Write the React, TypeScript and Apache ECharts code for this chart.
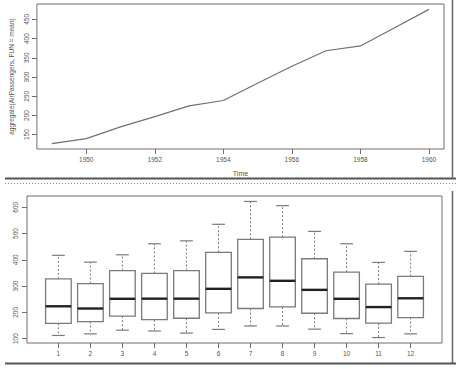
import React, { useEffect, useRef } from "react";
import * as echarts from "echarts";

const years = [1949, 1950, 1951, 1952, 1953, 1954, 1955, 1956, 1957, 1958, 1959, 1960];
const yearlyMean = [126.67, 139.67, 170.17, 197.0, 225.0, 238.92, 284.0, 328.25, 368.42, 381.0, 428.33, 476.17];
const yearTicks = [1950, 1952, 1954, 1956, 1958, 1960];
const meanTicks = [150, 200, 250, 300, 350, 400, 450];

const months = [1, 2, 3, 4, 5, 6, 7, 8, 9, 10, 11, 12];
const boxMin = [112, 118, 132, 129, 121, 135, 148, 148, 136, 119, 104, 118];
const boxQ1 = [158, 165, 185.5, 172, 177.5, 198, 214.5, 220.5, 196.5, 176.5, 159, 180];
const boxMedian = [223, 214.5, 251.5, 252, 252, 289.5, 333, 320, 285.5, 251.5, 220, 253.5];
const boxQ3 = [327.5, 309.5, 359, 348, 359, 428.5, 478, 486, 404, 353, 307.5, 336.5];
const boxMax = [417, 391, 419, 461, 472, 535, 622, 606, 508, 461, 390, 432];
const countTicks = [100, 200, 300, 400, 500, 600];

const FONT = "Liberation Sans";
const TXT = "#555555";
const AX = "#6e6e6e";

function pad(lo: number, hi: number) {
  const d = (hi - lo) * 0.04;
  return [lo - d, hi + d];
}

export default function App() {
  const ref = useRef<HTMLDivElement>(null);
  useEffect(() => {
    if (!ref.current) return;
    const chart = echarts.init(ref.current, undefined, { renderer: "svg" });
    const [x1min, x1max] = pad(Math.min(...years), Math.max(...years));
    const [y1min, y1max] = pad(Math.min(...yearlyMean), Math.max(...yearlyMean));
    const [x2min, x2max] = pad(0.5, months.length + 0.5);
    const [y2min, y2max] = pad(Math.min(...boxMin), Math.max(...boxMax));
    const boxData = months.map((m, k) => [m, boxMin[k], boxQ1[k], boxMedian[k], boxQ3[k], boxMax[k]]);

    const labelStyle = { fontFamily: FONT, fontSize: 6.5, color: TXT };

    chart.setOption({
      animation: false,
      backgroundColor: "#ffffff",
      grid: [
        { left: 33, top: 4, width: 411, height: 145, show: true, borderColor: AX, borderWidth: 1, backgroundColor: "transparent" },
        { left: 27, top: 196, width: 415, height: 147, show: true, borderColor: AX, borderWidth: 1, backgroundColor: "transparent" },
      ],
      xAxis: [
        {
          gridIndex: 0, type: "value", min: x1min, max: x1max,
          name: "Time", nameLocation: "middle", nameGap: 21,
          nameTextStyle: { ...labelStyle, fontSize: 7 },
          axisLine: { show: false },
          axisTick: { show: true, customValues: yearTicks, length: 5, lineStyle: { color: AX } },
          axisLabel: { ...labelStyle, customValues: yearTicks, margin: 7, formatter: (v: number) => String(v) },
          splitLine: { show: false },
        },
        {
          gridIndex: 1, type: "value", min: x2min, max: x2max,
          axisLine: { show: false },
          axisTick: { show: true, customValues: months, length: 5, lineStyle: { color: AX } },
          axisLabel: { ...labelStyle, customValues: months, margin: 7 },
          splitLine: { show: false },
        },
      ],
      yAxis: [
        {
          gridIndex: 0, type: "value", min: y1min, max: y1max,
          name: "aggregate(AirPassengers, FUN = mean)", nameLocation: "middle", nameGap: 21, nameRotate: 90,
          nameTextStyle: { ...labelStyle, fontSize: 6.5 },
          axisLine: { show: false },
          axisTick: { show: true, customValues: meanTicks, length: 5, lineStyle: { color: AX } },
          axisLabel: { ...labelStyle, customValues: meanTicks, rotate: 90, margin: 7 },
          splitLine: { show: false },
        },
        {
          gridIndex: 1, type: "value", min: y2min, max: y2max,
          axisLine: { show: false },
          axisTick: { show: true, customValues: countTicks, length: 5, lineStyle: { color: AX } },
          axisLabel: { ...labelStyle, customValues: countTicks, rotate: 90, margin: 8 },
          splitLine: { show: false },
        },
      ],
      series: [
        {
          type: "line", xAxisIndex: 0, yAxisIndex: 0,
          data: years.map((y, i) => [y, yearlyMean[i]]),
          showSymbol: false, symbol: "none",
          lineStyle: { color: "#707070", width: 1.2 },
        },
        {
          type: "custom", xAxisIndex: 1, yAxisIndex: 1,
          data: boxData,
          encode: { x: 0, y: [1, 2, 3, 4, 5] },
          renderItem: (params: any, api: any) => {
            const x = api.value(0);
            const lo = api.value(1), q1 = api.value(2), med = api.value(3), q3 = api.value(4), hi = api.value(5);
            const pTL = api.coord([x - 0.4, q3]);
            const pBR = api.coord([x + 0.4, q1]);
            const pMedL = api.coord([x - 0.4, med]);
            const pMedR = api.coord([x + 0.4, med]);
            const pLo = api.coord([x, lo]);
            const pHi = api.coord([x, hi]);
            const pQ1 = api.coord([x, q1]);
            const pQ3 = api.coord([x, q3]);
            const capL = api.coord([x - 0.2, lo])[0];
            const capR = api.coord([x + 0.2, lo])[0];
            const boxStroke = { stroke: "#7a7a7a", lineWidth: 1.3 };
            const whisk = { stroke: "#7a7a7a", lineWidth: 1, lineDash: [2, 2] };
            return {
              type: "group",
              children: [
                { type: "line", shape: { x1: pQ1[0], y1: pQ1[1], x2: pLo[0], y2: pLo[1] }, style: whisk },
                { type: "line", shape: { x1: pQ3[0], y1: pQ3[1], x2: pHi[0], y2: pHi[1] }, style: whisk },
                { type: "line", shape: { x1: capL, y1: pLo[1], x2: capR, y2: pLo[1] }, style: { stroke: "#7a7a7a", lineWidth: 1.2 } },
                { type: "line", shape: { x1: capL, y1: pHi[1], x2: capR, y2: pHi[1] }, style: { stroke: "#7a7a7a", lineWidth: 1.2 } },
                {
                  type: "rect",
                  shape: { x: pTL[0], y: pTL[1], width: pBR[0] - pTL[0], height: pBR[1] - pTL[1] },
                  style: { fill: "#ffffff", ...boxStroke },
                },
                { type: "line", shape: { x1: pMedL[0], y1: pMedL[1], x2: pMedR[0], y2: pMedR[1] }, style: { stroke: "#222222", lineWidth: 2.4 } },
              ],
            };
          },
        },
      ],
      graphic: [
        { type: "line", shape: { x1: 5, y1: 178.5, x2: 456, y2: 178.5 }, style: { stroke: "#555555", lineWidth: 2 } },
        { type: "line", shape: { x1: 5, y1: 183.5, x2: 456, y2: 183.5 }, style: { stroke: "#8a8a8a", lineWidth: 1, lineDash: [1, 2] } },
        { type: "line", shape: { x1: 452.5, y1: 0, x2: 452.5, y2: 179 }, style: { stroke: "#666666", lineWidth: 1.5 } },
        { type: "line", shape: { x1: 452.5, y1: 191, x2: 452.5, y2: 364 }, style: { stroke: "#666666", lineWidth: 1.5 } },
        { type: "line", shape: { x1: 5, y1: 363.5, x2: 456, y2: 363.5 }, style: { stroke: "#555555", lineWidth: 2 } },
      ],
    });
    return () => chart.dispose();
  }, []);
  return (
    <div
      ref={ref}
      style={{ position: "fixed", left: 0, top: 0, width: 456, height: 369, background: "#ffffff" }}
    />
  );
}
